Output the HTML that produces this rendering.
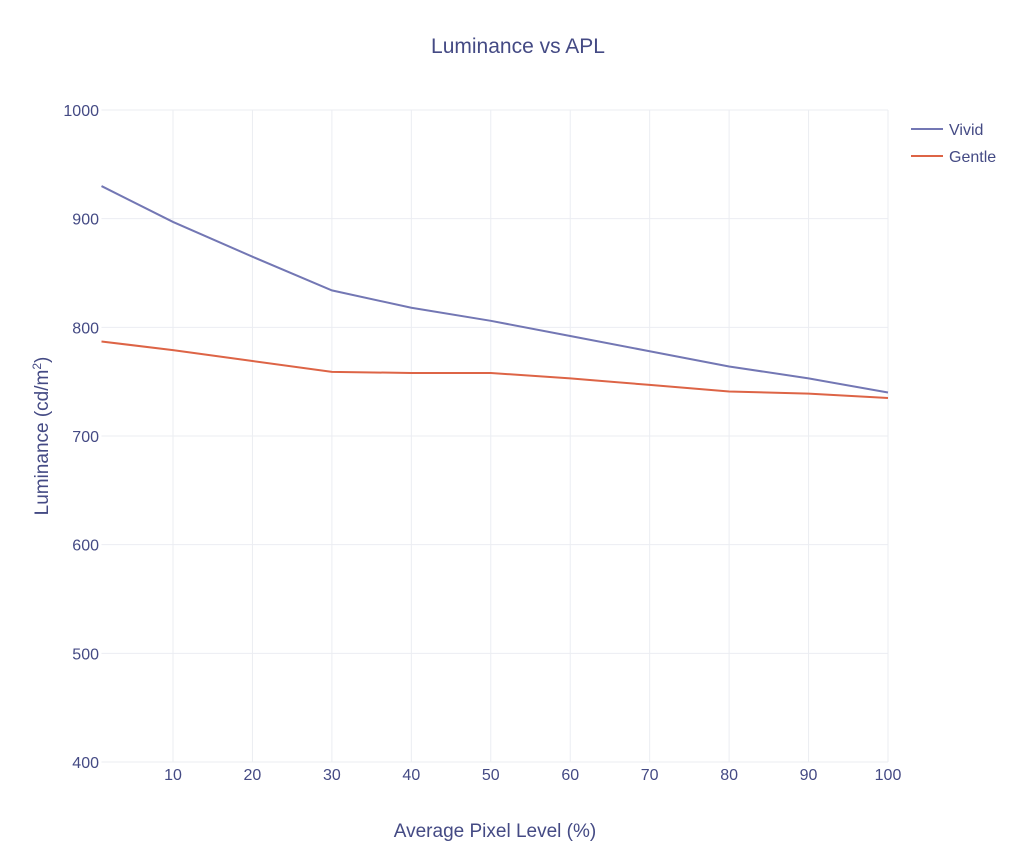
<!DOCTYPE html>
<html><head><meta charset="utf-8"><style>
body{margin:0;background:#fff;}
svg text{font-family:"Liberation Sans",sans-serif;fill:#444a84;}
</style></head><body>
<svg id="chart" width="1024" height="855" xmlns="http://www.w3.org/2000/svg">
<text x="518" y="53" text-anchor="middle" font-size="21">Luminance vs APL</text>
<g id="grid"></g><g id="ticks"></g><g id="lines"></g>
<text x="495" y="837" text-anchor="middle" font-size="19">Average Pixel Level (%)</text>
<text transform="translate(48,436) rotate(-90)" text-anchor="middle" font-size="19">Luminance (cd/m<tspan baseline-shift="super" font-size="12">2</tspan>)</text>
<g>
<line x1="911" y1="129" x2="943" y2="129" stroke="#7377b4" stroke-width="2"/>
<text x="949" y="135" font-size="16">Vivid</text>
<line x1="911" y1="156" x2="943" y2="156" stroke="#dd6446" stroke-width="2"/>
<text x="949" y="162" font-size="16">Gentle</text>
</g>
</svg>
<script>
const apl=[1,10,20,30,40,50,60,70,80,90,100];
const vivid=[930,897,865,834,818,806,792,778,764,753,740];
const gentle=[787,779,769,759,758,758,753,747,741,739,735];
const xTicks=[10,20,30,40,50,60,70,80,90,100];
const yTicks=[400,500,600,700,800,900,1000];
const NS="http://www.w3.org/2000/svg";
const X=v=>173+(v-10)*(888-173)/90;
const Y=v=>762-(v-400)*(762-110)/600;
function mk(t,a,p){const e=document.createElementNS(NS,t);for(const k in a)e.setAttribute(k,a[k]);document.getElementById(p).appendChild(e);return e;}
xTicks.forEach(t=>{
const l=mk('line',{x1:X(t),x2:X(t),y1:110,y2:762,stroke:'#ebedf2','stroke-width':1},'grid');


const s=mk('text',{x:X(t),y:780,'text-anchor':'middle','font-size':16},'ticks');s.textContent=t;


});
yTicks.forEach(t=>{
const l=mk('line',{x1:X(1),x2:888,y1:Y(t),y2:Y(t),stroke:'#ebedf2','stroke-width':1},'grid');


const s=mk('text',{x:99,y:Y(t)+6,'text-anchor':'end','font-size':16},'ticks');s.textContent=t;


});
[[vivid,'#7377b4','vivid-line'],[gentle,'#dd6446','gentle-line']].forEach(([d,c,n])=>{
const p=mk('polyline',{points:d.map((v,i)=>X(apl[i])+','+Y(v)).join(' '),fill:'none',stroke:c,'stroke-width':2},'lines');


});
</script>
</body></html>
